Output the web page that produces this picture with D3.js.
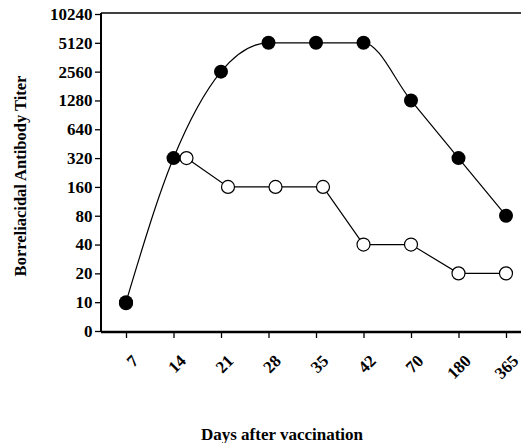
<!DOCTYPE html>
<html>
<head>
<meta charset="utf-8">
<script src="https://cdn.jsdelivr.net/npm/d3@7"></script>
<style>
  body { margin: 0; background: #fff; }
  svg { display: block; font-family: 'Liberation Serif', 'Times New Roman', serif; font-weight: bold; }
</style>
</head>
<body>
<svg width="521" height="443"></svg>
<script>
const days = ['7', '14', '21', '28', '35', '42', '70', '180', '365'];
const titerLevels = ['0', '10', '20', '40', '80', '160', '320', '640', '1280', '2560', '5120', '10240'];
const filledTiters = ['10', '320', '2560', '5120', '5120', '5120', '1280', '320', '80'];
const openTiters = ['10', '320', '160', '160', '160', '40', '40', '20', '20'];

const svg = d3.select('svg');
const plotLeft = 101;
const plotBottom = 332;
const plotTop = 13;
const serif = "'Liberation Serif', 'Times New Roman', serif";

const x = d3.scalePoint().domain(days).range([126, 506]);
const y = d3.scalePoint().domain(titerLevels).range([331, 14]);

// small dodge so the open markers sit beside the filled ones
const openDx = (d) => (d === '14' ? 13 : (['21', '28', '35'].includes(d) ? 7 : 0));

const filled = days.map((d, i) => ({ day: d, titer: filledTiters[i] }));
const open = days.map((d, i) => ({ day: d, titer: openTiters[i] }));

// frame
svg.append('line')
  .attr('x1', plotLeft).attr('x2', 521)
  .attr('y1', plotTop).attr('y2', plotTop)
  .attr('stroke', '#000').attr('stroke-width', 1.5);

const yAxis = svg.append('g')
  .attr('transform', `translate(${plotLeft}, 0)`)
  .call(d3.axisLeft(y).tickSize(6).tickPadding(2.5))
  .attr('font-family', serif)
  .attr('font-size', 17);
yAxis.select('.domain').attr('d', `M0,${plotTop}V${plotBottom}`).attr('stroke-width', 2);
yAxis.selectAll('.tick line').attr('stroke-width', 1.3);
yAxis.selectAll('text').attr('fill', '#000');

const xAxis = svg.append('g')
  .attr('transform', `translate(0, ${plotBottom})`)
  .call(d3.axisBottom(x).tickSize(6).tickFormat(''))
  .attr('font-family', serif)
  .attr('font-size', 17);
xAxis.select('.domain').attr('d', `M${plotLeft},0H521`).attr('stroke-width', 2.5);
xAxis.selectAll('.tick line').attr('stroke-width', 1.3);

xAxis.selectAll('.tick')
  .append('text')
  .attr('transform', 'translate(13, 30) rotate(-45)')
  .attr('text-anchor', 'end')
  .attr('fill', '#000')
  .text(d => d);

// series lines
const openLine = d3.line()
  .x(d => x(d.day) + openDx(d.day))
  .y(d => y(d.titer));
svg.append('path')
  .datum(open.slice(1))
  .attr('d', openLine)
  .attr('fill', 'none')
  .attr('stroke', '#000')
  .attr('stroke-width', 1.2);

const filledLine = d3.line()
  .x(d => x(d.day))
  .y(d => y(d.titer))
  .curve(d3.curveMonotoneX);
svg.append('path')
  .datum(filled)
  .attr('d', filledLine)
  .attr('fill', 'none')
  .attr('stroke', '#000')
  .attr('stroke-width', 1.2);

// markers
svg.append('g').selectAll('circle')
  .data(open)
  .join('circle')
  .attr('cx', d => x(d.day) + openDx(d.day))
  .attr('cy', d => y(d.titer) + (d.day === '7' ? 1 : 0))
  .attr('r', 6.5)
  .attr('fill', '#fff')
  .attr('stroke', '#000')
  .attr('stroke-width', 1.2);

svg.append('g').selectAll('circle')
  .data(filled)
  .join('circle')
  .attr('cx', d => x(d.day))
  .attr('cy', d => y(d.titer))
  .attr('r', 7)
  .attr('fill', '#000');

// axis titles
svg.append('text')
  .attr('transform', 'translate(26, 176) rotate(-90)')
  .attr('text-anchor', 'middle')
  .attr('font-size', 16.5)
  .text('Borreliacidal Antibody Titer');

svg.append('text')
  .attr('x', 282)
  .attr('y', 440)
  .attr('text-anchor', 'middle')
  .attr('font-size', 17)
  .text('Days after vaccination');
</script>
</body>
</html>
